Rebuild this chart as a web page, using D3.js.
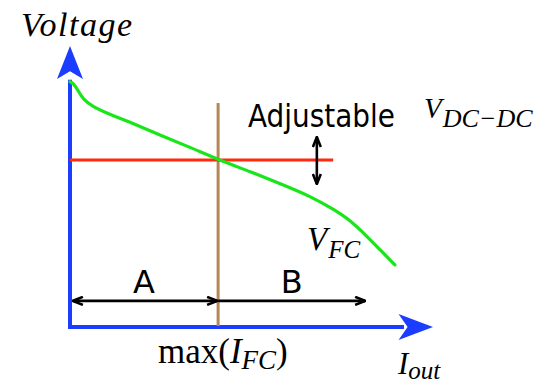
<!DOCTYPE html>
<html>
<head>
<meta charset="utf-8">
<script src="https://cdn.jsdelivr.net/npm/d3@7"></script>
<style>
  html, body { margin: 0; padding: 0; background: #fff; }
  svg { display: block; }
</style>
</head>
<body>
<script>
// Fuel-cell polarization curve (output current vs voltage), arbitrary units 0..100
const fcCurrent = [0, 1.0, 2.2, 3.6, 6.3, 11.0, 15.6, 24.8, 33.9, 40.8, 49.6, 58.7, 66.1, 72.5, 77.1, 81.7, 85.4, 89.5];
const fcVoltage = [87.3, 86.6, 84.2, 81.0, 78.4, 75.6, 73.4, 68.3, 63.5, 59.6, 55.3, 50.6, 46.6, 42.0, 38.1, 32.4, 27.5, 22.1];

// Adjustable DC-DC output voltage level and the range it spans
const vDcDc = 59.4;
const vDcDcEnd = 72.5;
const adjustX = 68.0;
const adjustRange = [50.9, 67.6];

// Maximum fuel-cell current, splitting regions A and B
const maxIfc = 40.8;
const maxIfcTop = 79.7;
const regionY = 9.3;
const regionBEnd = 81.3;
const regionLabels = ["A", "B"];

const W = 547, H = 383;
const svg = d3.select("body").append("svg").attr("width", W).attr("height", H);

const x = d3.scaleLinear().domain([0, 100]).range([70, 433]);
const y = d3.scaleLinear().domain([0, 100]).range([327, 46]);

const blue = "#1a3dff", green = "#19e619", red = "#ff2a0d", brown = "#b58656";

// Open chevron arrowheads for the dimension arrows
const defs = svg.append("defs");
defs.append("marker")
  .attr("id", "arr")
  .attr("viewBox", "0 0 12 10")
  .attr("refX", 11).attr("refY", 5)
  .attr("markerWidth", 12).attr("markerHeight", 10)
  .attr("markerUnits", "userSpaceOnUse")
  .attr("orient", "auto-start-reverse")
  .append("path")
  .attr("d", "M1,1 L11,5 L1,9")
  .attr("fill", "none").attr("stroke", "#000")
  .attr("stroke-width", 2.6).attr("stroke-linejoin", "miter");

// Axes with big blue arrowheads
const axisG = svg.append("g");
axisG.append("line")
  .attr("x1", x(0)).attr("y1", y(0)).attr("x2", x(0)).attr("y2", y(88))
  .attr("stroke", blue).attr("stroke-width", 4);
axisG.append("line")
  .attr("x1", x(0) - 2).attr("y1", y(0)).attr("x2", x(92)).attr("y2", y(0))
  .attr("stroke", blue).attr("stroke-width", 4);
axisG.append("path")
  .attr("d", `M${x(0)},${y(100)} L${x(0) + 13},${y(88.3)} L${x(0)},${y(91)} L${x(0) - 13},${y(88.3)} Z`)
  .attr("fill", blue);
axisG.append("path")
  .attr("d", `M${x(100)},${y(0)} L${x(90.5)},${y(0) - 13} L${x(93)},${y(0)} L${x(90.5)},${y(0) + 13} Z`)
  .attr("fill", blue);

// Max fuel-cell current marker
svg.append("line")
  .attr("x1", x(maxIfc)).attr("x2", x(maxIfc))
  .attr("y1", y(maxIfcTop)).attr("y2", y(0) - 1)
  .attr("stroke", brown).attr("stroke-width", 3);

// DC-DC voltage level
svg.append("line")
  .attr("x1", x(0)).attr("x2", x(vDcDcEnd))
  .attr("y1", y(vDcDc)).attr("y2", y(vDcDc))
  .attr("stroke", red).attr("stroke-width", 3);

// Fuel-cell voltage curve (smoothed through the sampled points)
const pts = fcCurrent.map((c, i) => [c, fcVoltage[i]]);
svg.append("path")
  .datum(pts)
  .attr("d", d3.line().x(d => x(d[0])).y(d => y(d[1])).curve(d3.curveBasis))
  .attr("fill", "none").attr("stroke", green).attr("stroke-width", 3.2)
  .attr("stroke-linecap", "round").attr("stroke-linejoin", "round");

// Adjustable double arrow
svg.append("line")
  .attr("x1", x(adjustX)).attr("x2", x(adjustX))
  .attr("y1", y(adjustRange[0])).attr("y2", y(adjustRange[1]))
  .attr("stroke", "#000").attr("stroke-width", 2.6)
  .attr("marker-start", "url(#arr)").attr("marker-end", "url(#arr)");

// Region A and B arrows
svg.append("line")
  .attr("x1", x(0.8)).attr("x2", x(maxIfc) - 1)
  .attr("y1", y(regionY)).attr("y2", y(regionY))
  .attr("stroke", "#000").attr("stroke-width", 2.6)
  .attr("marker-start", "url(#arr)").attr("marker-end", "url(#arr)");
svg.append("line")
  .attr("x1", x(maxIfc)).attr("x2", x(regionBEnd))
  .attr("y1", y(regionY)).attr("y2", y(regionY))
  .attr("stroke", "#000").attr("stroke-width", 2.6)
  .attr("marker-end", "url(#arr)");

const serif = "'Liberation Serif', 'Times New Roman', serif";
const sans = "'DejaVu Sans', Verdana, sans-serif";

// Region labels
[[(0 + maxIfc) / 2, regionLabels[0]], [(maxIfc + regionBEnd) / 2, regionLabels[1]]].forEach(([cx, t]) => {
  svg.append("text")
    .attr("x", x(cx)).attr("y", 293)
    .attr("text-anchor", "middle")
    .attr("font-family", sans).attr("font-size", 32)
    .attr("fill", "#000")
    .text(t);
});

// Axis titles
svg.append("text")
  .attr("x", 21).attr("y", 36)
  .attr("font-family", serif).attr("font-style", "italic").attr("font-size", 34)
  .attr("textLength", 111).attr("lengthAdjust", "spacing")
  .text("Voltage");

const iout = svg.append("text")
  .attr("x", 398).attr("y", 374)
  .attr("font-family", serif).attr("font-style", "italic").attr("font-size", 31);
iout.append("tspan").text("I");
iout.append("tspan").attr("font-size", 25).attr("dy", 5).attr("dx", 0).text("out");

// max(I_FC) under the marker
const mx = svg.append("text")
  .attr("x", 158).attr("y", 363)
  .attr("font-family", serif).attr("font-size", 35);
mx.append("tspan").text("max(");
mx.append("tspan").attr("font-style", "italic").text("I");
mx.append("tspan").attr("font-style", "italic").attr("font-size", 27).attr("dy", 6).text("FC");
mx.append("tspan").attr("dy", -6).text(")");

// Adjustable V_DC-DC
svg.append("text")
  .attr("x", 248).attr("y", 127)
  .attr("font-family", sans).attr("font-size", 32)
  .attr("textLength", 147).attr("lengthAdjust", "spacingAndGlyphs")
  .text("Adjustable");
const vdc = svg.append("text")
  .attr("x", 424).attr("y", 118)
  .attr("font-family", serif).attr("font-style", "italic").attr("font-size", 29);
vdc.append("tspan").text("V");
vdc.append("tspan").attr("font-size", 26).attr("dy", 9).attr("dx", 1).text("DC\u2212DC");

// V_FC label by the curve
const vfc = svg.append("text")
  .attr("x", 307).attr("y", 250)
  .attr("font-family", serif).attr("font-style", "italic").attr("font-size", 33);
vfc.append("tspan").text("V");
vfc.append("tspan").attr("font-size", 25).attr("dy", 8).attr("dx", 1).text("FC");
</script>
</body>
</html>
